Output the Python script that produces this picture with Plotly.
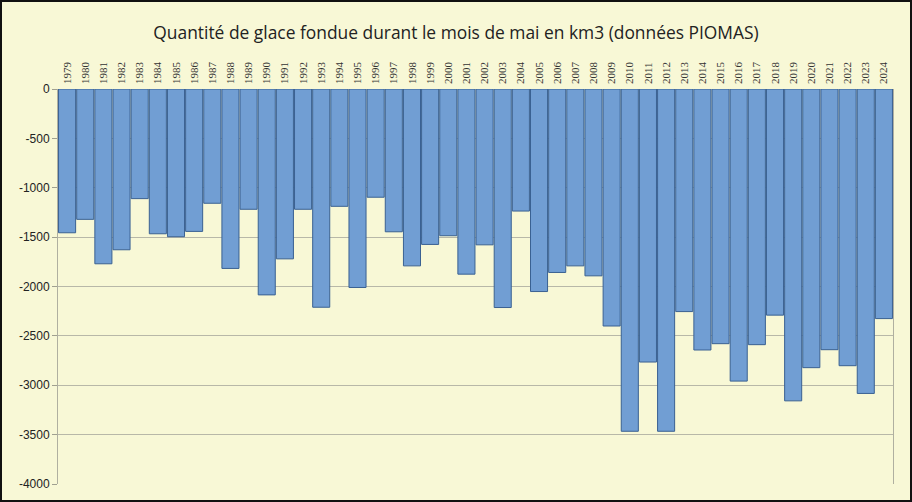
import plotly.graph_objects as go

years = [str(y) for y in range(1979, 2025)]
melt = [-1456, -1320, -1770, -1628, -1110, -1466, -1496, -1442, -1157, -1817,
        -1218, -2085, -1720, -1218, -2210, -1188, -2010, -1096, -1446, -1791,
        -1574, -1486, -1875, -1578, -2213, -1236, -2051, -1858, -1791, -1892,
        -2400, -3466, -2765, -3466, -2254, -2643, -2579, -2958, -2589, -2290,
        -3158, -2822, -2640, -2802, -3083, -2325]
y_ticks = [0, -500, -1000, -1500, -2000, -2500, -3000, -3500, -4000]

W, H = 912, 502
ML, MR, MT, MB = 58, 19, 89, 18
pw, ph = W - ML - MR, H - MT - MB

fig = go.Figure(go.Bar(
    x=years, y=melt,
    marker=dict(color="#719ED3", line=dict(color="#3A6192", width=1)),
))

fig.update_layout(
    width=W, height=H,
    margin=dict(l=ML, r=MR, t=MT, b=MB),
    paper_bgcolor="#F8F8D6",
    plot_bgcolor="#F8F8D6",
    bargap=0.06,
    showlegend=False,
    title=dict(text="Quantité de glace fondue durant le mois de mai en km3 (données PIOMAS)",
               x=0.5, xanchor="center", y=1 - 33 / H, yanchor="middle",
               font=dict(family="Open Sans", size=17.4, color="#222222")),
    xaxis=dict(side="top", tickangle=-90, showgrid=False, showline=False,
               ticks="", ticklabelstandoff=4,
               tickfont=dict(family="Liberation Serif", size=11, color="#333333")),
    yaxis=dict(range=[-4000, 0], tickvals=y_ticks, ticktext=[str(v) for v in y_ticks],
               showgrid=True, gridcolor="#B8B8A8", gridwidth=1,
               showline=True, linecolor="#B0B0A0", linewidth=1, mirror=True,
               ticks="outside", ticklen=5, tickcolor="#A0A090",
               zeroline=False,
               tickfont=dict(family="Liberation Sans", size=12, color="#222222")),
)

# outer black frame of the chart
fig.add_shape(type="rect", xref="paper", yref="paper",
              x0=(1 - ML) / pw, x1=(W - 1 - ML) / pw,
              y0=-(MB - 1) / ph, y1=1 + (MT - 1) / ph,
              line=dict(color="#111111", width=2), layer="above")

fig.write_html("out.html", config={"displayModeBar": False},
               post_script="document.body.style.margin='0px';")
